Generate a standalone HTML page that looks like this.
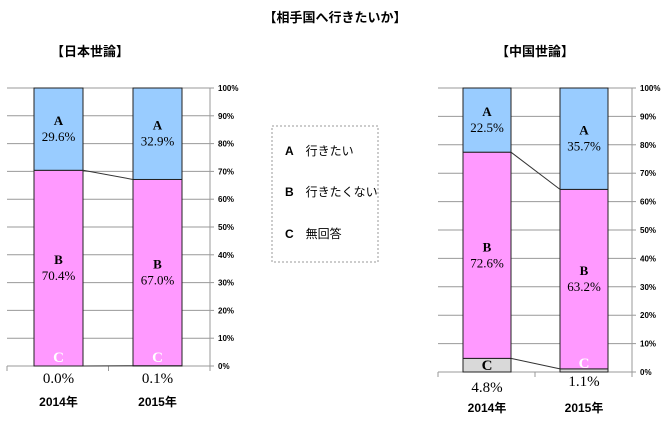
<!DOCTYPE html>
<html><head><meta charset="utf-8"><style>
body{margin:0;background:#fff;}
svg{display:block;font-family:"Liberation Sans","Noto Sans CJK JP",sans-serif;}
</style></head><body>
<svg id="c" width="670" height="438" viewBox="0 0 670 438">
<text x="335" y="22" text-anchor="middle" font-size="13" font-weight="bold">【相手国へ行きたいか】</text>
<text x="90" y="56" text-anchor="middle" font-size="13" font-weight="bold">【日本世論】</text>
<text x="535" y="56" text-anchor="middle" font-size="13" font-weight="bold">【中国世論】</text>
<g>
<rect x="272" y="126" width="106" height="136" fill="none" stroke="#999" stroke-dasharray="2,2"/>
<text x="285" y="155" font-size="12"><tspan font-weight="bold">A</tspan>　行きたい</text>
<text x="285" y="196" font-size="12"><tspan font-weight="bold">B</tspan>　行きたくない</text>
<text x="285" y="238" font-size="12"><tspan font-weight="bold">C</tspan>　無回答</text>
</g>
</svg>
<script>
const years = ["2014年","2015年"];
const japanA = [29.6, 32.9];
const japanB = [70.4, 67.0];
const japanC = [0.0, 0.1];
const chinaA = [22.5, 35.7];
const chinaB = [72.6, 63.2];
const chinaC = [4.8, 1.1];
const tickLabels = ["0%","10%","20%","30%","40%","50%","60%","70%","80%","90%","100%"];
const NS="http://www.w3.org/2000/svg";
const svg=document.getElementById('c');
function mk(tag,attrs,parent){const e=document.createElementNS(NS,tag);for(const k in attrs)e.setAttribute(k,attrs[k]);(parent||svg).appendChild(e);return e;}
function draw(cfg){
  const g=mk('g',{});
  
  
  const y=v=>cfg.bot-(cfg.bot-cfg.top)*v/100;
  tickLabels.forEach((t,i)=>{
    const yy=y(i*10);
    const l=mk('line',{x1:cfg.x0,x2:cfg.x1,y1:yy,y2:yy,stroke:'#999','stroke-width':1},g);
    
    
    const tl=mk('line',{x1:cfg.x1,x2:cfg.x1+4,y1:yy,y2:yy,stroke:'#999'},g);
    
    
    const tx=mk('text',{x:cfg.x1+8,y:yy+3,'font-size':8,'font-weight':'bold'},g);
    tx.textContent=t;
    
    
  });
  const ax=mk('line',{x1:cfg.x1,x2:cfg.x1,y1:cfg.top,y2:cfg.bot,stroke:'#999'},g);
  
  
  const xa=mk('line',{x1:cfg.x0,x2:cfg.x1,y1:cfg.bot,y2:cfg.bot,stroke:'#999'},g);
  
  
  [cfg.x0,(cfg.x0+cfg.x1)/2,cfg.x1].forEach(xx=>{const t=mk('line',{x1:xx,x2:xx,y1:cfg.bot,y2:cfg.bot+5,stroke:'#999'},g);
    
    });
  const bw=cfg.bw;
  for(let i=0;i<years.length-1;i++){
    const xr=cfg.bx[i]+bw, xl=cfg.bx[i+1];
    const c1=mk('line',{x1:xr,y1:y(cfg.C[i]+cfg.B[i]),x2:xl,y2:y(cfg.C[i+1]+cfg.B[i+1]),stroke:'#333'},g);
    
    
    const c2=mk('line',{x1:xr,y1:y(cfg.C[i]),x2:xl,y2:y(cfg.C[i+1]),stroke:'#333'},g);
    
    
  }
  years.forEach((yr,i)=>{
    const x=cfg.bx[i], cx=x+bw/2;
    const c=cfg.C[i], b=cfg.B[i], a=cfg.A[i];
    const rc=mk('rect',{x:x,y:y(c),width:bw,height:y(0)-y(c),fill:'#d9d9d9',stroke:'#222'},g);
    
    
    const rb=mk('rect',{x:x,y:y(c+b),width:bw,height:y(c)-y(c+b),fill:'#ff99ff',stroke:'#222'},g);
    
    
    const ra=mk('rect',{x:x,y:y(100),width:bw,height:y(c+b)-y(100),fill:'#99ccff',stroke:'#222'},g);
    
    
    const ya=(y(100)+y(c+b))/2, yb=(y(c)+y(c+b))/2;
    const ta=mk('text',{x:cx,y:ya-4,'text-anchor':'middle','font-size':13,'font-family':'Liberation Serif,serif'},g);
    ta.innerHTML='<tspan x="'+cx+'" font-weight="bold">A</tspan><tspan x="'+cx+'" dy="16">'+a.toFixed(1)+'%</tspan>';
    
    
    const tb=mk('text',{x:cx,y:yb-4,'text-anchor':'middle','font-size':13,'font-family':'Liberation Serif,serif'},g);
    tb.innerHTML='<tspan x="'+cx+'" font-weight="bold">B</tspan><tspan x="'+cx+'" dy="16">'+b.toFixed(1)+'%</tspan>';
    
    
    const big=c>3;
    const tc=mk('text',{x:cx,y:big?y(0)-2:y(0)-4,'text-anchor':'middle','font-size':15,'font-weight':'bold','font-family':'Liberation Serif,serif',fill:big?'#000':'#fff'},g);
    tc.textContent='C';
    
    
    const tv=mk('text',{x:cx,y:cfg.bot+(big?20:17)-(i&&cfg.name==='china-chart'?3:0),'text-anchor':'middle','font-size':15,'font-family':'Liberation Serif,serif'},g);
    tv.textContent=c.toFixed(1)+'%';
    
    
    const ty=mk('text',{x:cx,y:cfg.yl,'text-anchor':'middle','font-size':12,'font-weight':'bold'},g);
    ty.textContent=yr;
    
    
  });
}
draw({name:'japan-chart',x0:7,x1:210,top:88,bot:366,bx:[34,133],bw:49,A:japanA,B:japanB,C:japanC,yl:406});
draw({name:'china-chart',x0:438,x1:632,top:88,bot:372,bx:[463,560],bw:48,A:chinaA,B:chinaB,C:chinaC,yl:412});
</script>
</body></html>
